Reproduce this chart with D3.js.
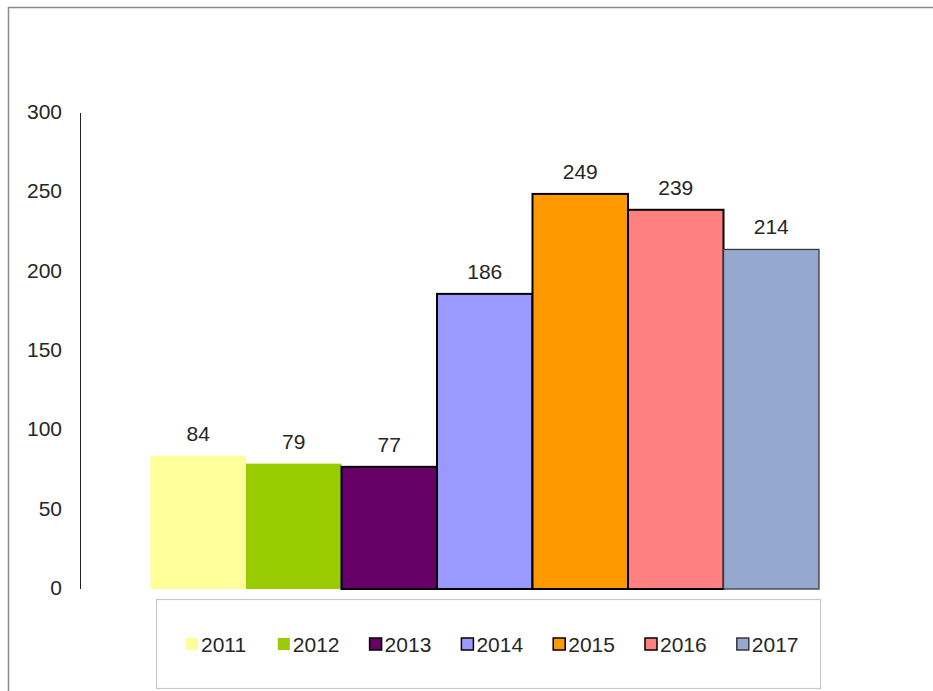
<!DOCTYPE html>
<html>
<head>
<meta charset="utf-8">
<script src="https://cdnjs.cloudflare.com/ajax/libs/d3/7.8.5/d3.min.js"></script>
<style>
  body { margin: 0; background: #fff; }
  text { font-family: "Liberation Sans", Arial, sans-serif; }
</style>
</head>
<body>
<div id="chart"></div>
<script>
var width = 933;
var height = 691;

// data
var years = ["2011", "2012", "2013", "2014", "2015", "2016", "2017"];
var values = [84, 79, 77, 186, 249, 239, 214];
var yTicks = [0, 50, 100, 150, 200, 250, 300];

var fills = ["#FFFF99", "#99CC00", "#660066", "#9999FF", "#FF9900", "#FF8080", "#95A9D0"];
var strokes = ["none", "none", "#000000", "#000000", "#000000", "#000000", "#3a3a3a"];
var strokeW = [0, 0, 2, 2, 2, 2, 1.3];

var svg = d3.select("#chart")
  .append("svg")
  .attr("width", width)
  .attr("height", height);

// outer frame (runs off right/bottom edges)
svg.append("rect")
  .attr("x", 8.5).attr("y", 7.5)
  .attr("width", 940).attr("height", 700)
  .attr("fill", "#fff")
  .attr("stroke", "#8c8c8c")
  .attr("stroke-width", 1.5);

var x = d3.scaleBand().domain(years).range([150.5, 819]).padding(0);
var y = d3.scaleLinear().domain([0, 300]).range([589, 113]);

// y axis line + labels
svg.append("line")
  .attr("x1", 80.5).attr("x2", 80.5)
  .attr("y1", y(300)).attr("y2", y(0))
  .attr("stroke", "#222").attr("stroke-width", 1);

svg.selectAll(".ylab")
  .data(yTicks)
  .enter().append("text")
  .attr("class", "ylab")
  .attr("x", 62)
  .attr("y", d => y(d) - 1.5)
  .attr("dy", "0.35em")
  .attr("text-anchor", "end")
  .style("font-size", "21px")
  .attr("fill", "#262626")
  .text(d => d);

// bars
svg.selectAll(".bar")
  .data(values)
  .enter().append("rect")
  .attr("class", "bar")
  .attr("x", (d, i) => x(years[i]))
  .attr("y", d => y(d))
  .attr("width", x.bandwidth())
  .attr("height", d => y(0) - y(d))
  .attr("fill", (d, i) => fills[i])
  .attr("stroke", (d, i) => strokes[i])
  .attr("stroke-width", (d, i) => strokeW[i]);

// value labels
svg.selectAll(".vlab")
  .data(values)
  .enter().append("text")
  .attr("class", "vlab")
  .attr("x", (d, i) => x(years[i]) + x.bandwidth() / 2)
  .attr("y", d => y(d) - 15)
  .attr("text-anchor", "middle")
  .style("font-size", "21px")
  .attr("fill", "#262626")
  .text(d => d);

// legend
svg.append("rect")
  .attr("x", 156.5).attr("y", 599.5)
  .attr("width", 664).attr("height", 89)
  .attr("fill", "#fff")
  .attr("stroke", "#c8c8c8")
  .attr("stroke-width", 1.2);

var leg = svg.selectAll(".leg")
  .data(years)
  .enter().append("g")
  .attr("class", "leg")
  .attr("transform", (d, i) => "translate(" + (186 + i * 91.8) + ",644)");

leg.append("rect")
  .attr("x", 0).attr("y", -6)
  .attr("width", 12).attr("height", 12)
  .attr("fill", (d, i) => fills[i])
  .attr("stroke", (d, i) => strokes[i])
  .attr("stroke-width", (d, i) => strokeW[i] ? 1.5 : 0);

leg.append("text")
  .attr("x", 15)
  .attr("y", 0)
  .attr("dy", "0.36em")
  .style("font-size", "21px")
  .attr("fill", "#262626")
  .text(d => d);
</script>
</body>
</html>
